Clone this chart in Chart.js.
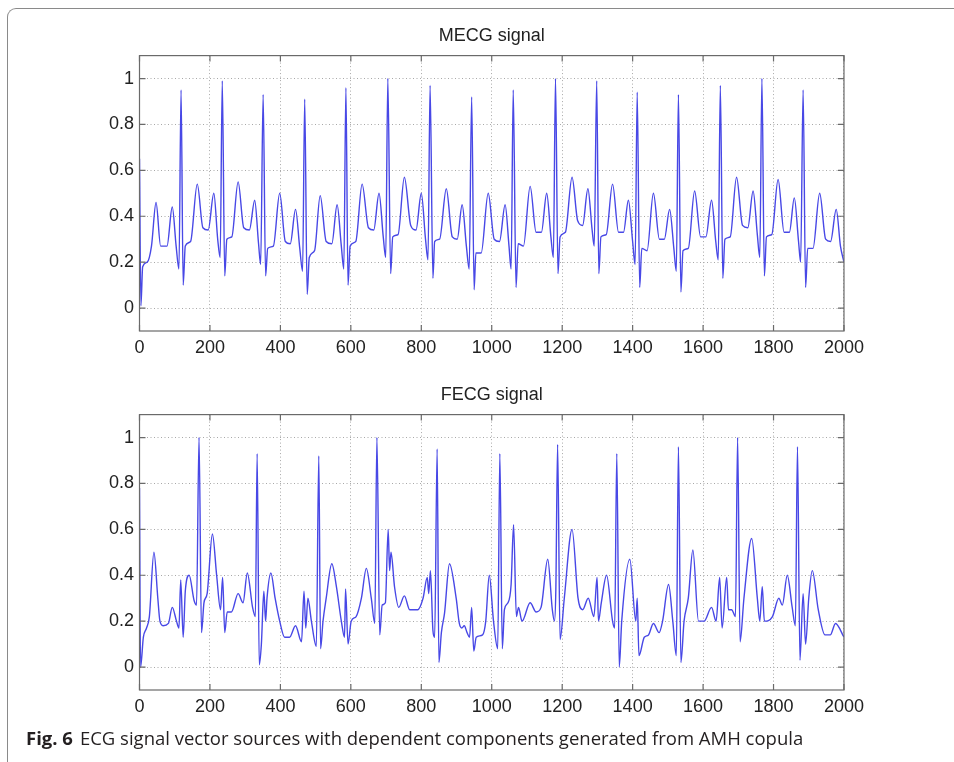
<!DOCTYPE html>
<html>
<head>
<meta charset="utf-8">
<script src="https://cdn.jsdelivr.net/npm/chart.js@4.4.1/dist/chart.umd.min.js"></script>
<style>
  html, body { margin: 0; padding: 0; background: #fff; }
  body { width: 954px; height: 762px; position: relative; overflow: hidden; }
  .frame { position: absolute; left: 7px; top: 8px; width: 1000px; height: 800px;
           border-left: 1.5px solid #8a8a8a; border-top: 1.5px solid #8a8a8a; border-top-left-radius: 9px; }
  canvas { position: absolute; left: 70px; }
  #chartMecg { top: 14px; }
  #chartFecg { top: 373px; }
  .caption { position: absolute; left: 26px; top: 725px; font-family: "Open Sans", sans-serif;
             font-size: 18.5px; color: #231f20; white-space: nowrap; }
  .caption b { font-weight: 700; margin-right: 7px; }
</style>
</head>
<body>
<div class="frame"></div>
<canvas id="chartMecg" width="800" height="360"></canvas>
<canvas id="chartFecg" width="800" height="360"></canvas>
<div class="caption"><b>Fig. 6</b>ECG signal vector sources with dependent components generated from AMH copula</div>

<script>
// tick values
const xTicks = [0, 200, 400, 600, 800, 1000, 1200, 1400, 1600, 1800, 2000];
const yTicks = [0, 0.2, 0.4, 0.6, 0.8, 1];

// MECG signal, [sample, amplitude]
const mecg = [
  [0,0.65],[4,0.01],[9,0.18],[22,0.2],[34,0.27],[47,0.46],[60,0.27],[78,0.27],[93,0.44],[104,0.27],
  [112,0.17],[118,0.95],[124,0.10],[130,0.27],[145,0.29],[164,0.54],[180,0.35],[195,0.34],[211,0.50],[222,0.30],
  [229,0.22],[235,0.99],[242,0.14],[248,0.30],[262,0.31],[280,0.55],[296,0.35],[312,0.34],[327,0.47],[338,0.28],
  [344,0.19],[351,0.93],[358,0.14],[364,0.26],[380,0.27],[398,0.50],[414,0.29],[428,0.28],[443,0.43],[455,0.26],
  [463,0.16],[469,0.91],[476,0.06],[482,0.22],[497,0.25],[513,0.49],[530,0.29],[546,0.28],[561,0.45],[573,0.27],
  [580,0.17],[586,0.96],[592,0.10],[598,0.27],[614,0.29],[632,0.54],[650,0.35],[665,0.34],[680,0.50],[692,0.31],
  [699,0.22],[705,1.0],[713,0.15],[719,0.31],[734,0.32],[752,0.57],[770,0.36],[785,0.34],[800,0.50],[812,0.30],
  [819,0.21],[825,0.97],[833,0.13],[838,0.29],[852,0.30],[871,0.52],[888,0.31],[902,0.30],[916,0.45],[928,0.27],
  [936,0.17],[943,0.92],[950,0.08],[955,0.24],[970,0.24],[990,0.50],[1007,0.30],[1022,0.29],[1038,0.45],[1049,0.27],
  [1055,0.17],[1061,0.95],[1069,0.09],[1075,0.28],[1090,0.27],[1109,0.53],[1126,0.33],[1141,0.33],[1156,0.50],[1168,0.31],
  [1175,0.22],[1181,1.0],[1188,0.15],[1194,0.31],[1209,0.33],[1228,0.57],[1244,0.38],[1258,0.36],[1273,0.52],[1285,0.34],
  [1291,0.27],[1298,0.99],[1304,0.15],[1310,0.31],[1325,0.32],[1343,0.54],[1360,0.33],[1374,0.33],[1388,0.47],[1400,0.29],
  [1407,0.19],[1413,0.94],[1420,0.09],[1426,0.26],[1441,0.25],[1459,0.50],[1476,0.30],[1490,0.30],[1505,0.43],[1517,0.26],
  [1524,0.16],[1530,0.93],[1537,0.07],[1543,0.25],[1558,0.26],[1576,0.51],[1593,0.31],[1608,0.31],[1624,0.47],[1636,0.29],
  [1643,0.21],[1649,0.97],[1656,0.13],[1662,0.30],[1677,0.31],[1695,0.57],[1712,0.36],[1727,0.35],[1742,0.51],[1754,0.32],
  [1761,0.22],[1767,1.0],[1774,0.14],[1780,0.31],[1795,0.32],[1813,0.56],[1830,0.33],[1845,0.33],[1859,0.48],[1871,0.29],
  [1877,0.20],[1884,0.95],[1891,0.09],[1897,0.26],[1912,0.26],[1931,0.50],[1948,0.30],[1962,0.29],[1978,0.43],[1990,0.27],
  [2000,0.20]
];

// FECG signal
const fecg = [
  [0,0.78],[3,0.0],[11,0.13],[20,0.17],[28,0.22],[41,0.50],[52,0.30],[58,0.2],[67,0.18],[82,0.19],
  [93,0.26],[105,0.2],[112,0.17],[117,0.38],[124,0.13],[130,0.33],[141,0.40],[155,0.29],[162,0.27],[169,1.0],
  [176,0.15],[183,0.28],[192,0.32],[207,0.58],[219,0.40],[230,0.25],[236,0.39],[242,0.15],[249,0.24],[261,0.24],
  [280,0.32],[294,0.28],[306,0.41],[321,0.26],[329,0.22],[334,0.93],[340,0.01],[346,0.10],[353,0.33],[358,0.20],
  [362,0.3],[373,0.41],[385,0.3],[398,0.2],[412,0.13],[426,0.13],[443,0.18],[460,0.11],[467,0.33],[472,0.17],
  [478,0.3],[488,0.2],[502,0.09],[509,0.92],[514,0.08],[521,0.2],[530,0.3],[546,0.45],[559,0.35],[573,0.2],
  [582,0.13],[585,0.34],[592,0.10],[601,0.2],[615,0.22],[630,0.3],[644,0.43],[658,0.3],[668,0.19],[674,1.0],
  [682,0.14],[689,0.27],[698,0.28],[706,0.6],[710,0.42],[714,0.5],[724,0.35],[736,0.26],[752,0.31],[767,0.25],
  [790,0.25],[805,0.3],[817,0.39],[821,0.32],[826,0.42],[833,0.16],[838,0.13],[845,0.95],[850,0.02],[857,0.15],
  [866,0.235],[880,0.45],[899,0.3],[908,0.19],[915,0.17],[922,0.18],[930,0.15],[937,0.13],[943,0.26],[949,0.07],
  [956,0.13],[974,0.14],[983,0.2],[993,0.4],[1005,0.2],[1017,0.08],[1023,0.93],[1030,0.08],[1036,0.25],[1046,0.28],
  [1055,0.36],[1062,0.62],[1070,0.22],[1076,0.26],[1086,0.2],[1109,0.28],[1126,0.24],[1140,0.26],[1159,0.47],[1172,0.25],
  [1178,0.2],[1182,0.34],[1187,0.97],[1194,0.12],[1206,0.3],[1228,0.6],[1245,0.3],[1258,0.25],[1274,0.3],[1290,0.22],
  [1299,0.39],[1303,0.2],[1311,0.28],[1326,0.4],[1343,0.2],[1349,0.17],[1355,0.93],[1362,0.0],[1369,0.2],[1392,0.47],
  [1409,0.2],[1413,0.3],[1418,0.05],[1433,0.13],[1445,0.14],[1459,0.19],[1475,0.15],[1485,0.2],[1502,0.36],[1514,0.2],
  [1524,0.05],[1530,0.96],[1537,0.02],[1546,0.2],[1558,0.3],[1571,0.51],[1587,0.2],[1603,0.2],[1624,0.26],[1637,0.2],
  [1647,0.39],[1654,0.17],[1667,0.39],[1672,0.25],[1681,0.25],[1692,0.22],[1698,1.0],[1705,0.11],[1716,0.3],[1738,0.56],
  [1754,0.3],[1761,0.2],[1768,0.35],[1774,0.2],[1797,0.22],[1815,0.3],[1825,0.27],[1839,0.4],[1853,0.26],[1862,0.18],
  [1868,0.96],[1875,0.03],[1884,0.32],[1891,0.1],[1900,0.3],[1910,0.42],[1927,0.25],[1946,0.14],[1961,0.14],[1976,0.19],
  [2000,0.13]
];

const tickFont = { family: '"Liberation Sans", Arial, sans-serif', size: 18 };

// matlab style box with inward ticks on all four sides
const matlabBox = {
  id: 'matlabBox',
  afterDraw(chart) {
    const { ctx, chartArea: a, scales: { x, y } } = chart;
    ctx.save();
    ctx.strokeStyle = '#6a6a6a';
    ctx.lineWidth = 1.2;
    ctx.strokeRect(a.left, a.top, a.right - a.left, a.bottom - a.top);
    ctx.beginPath();
    x.ticks.forEach(t => {
      const px = x.getPixelForValue(t.value);
      ctx.moveTo(px, a.bottom); ctx.lineTo(px, a.bottom - 6);
      ctx.moveTo(px, a.top); ctx.lineTo(px, a.top + 6);
    });
    y.ticks.forEach(t => {
      const py = y.getPixelForValue(t.value);
      ctx.moveTo(a.left, py); ctx.lineTo(a.left + 6, py);
      ctx.moveTo(a.right, py); ctx.lineTo(a.right - 6, py);
    });
    ctx.stroke();
    ctx.restore();
  }
};

function drawSignal(canvasId, title, points) {
  const ctx = document.getElementById(canvasId).getContext('2d');
  return new Chart(ctx, {
    type: 'line',
    data: {
      datasets: [{
        data: points.map(p => ({ x: p[0], y: p[1] })),
        borderColor: '#4848e6',
        borderWidth: 1.4,
        pointRadius: 0,
        fill: false,
        cubicInterpolationMode: 'monotone'
      }]
    },
    options: {
      responsive: false,
      animation: false,
      devicePixelRatio: 1,
      layout: { padding: { left: 0, right: 26, top: 0, bottom: 3 } },
      plugins: {
        legend: { display: false },
        tooltip: { enabled: false },
        title: {
          display: true,
          text: title,
          fullSize: false,
          color: '#222',
          font: { family: '"Liberation Sans", Arial, sans-serif', size: 18, weight: 'normal', lineHeight: 1.2 },
          padding: { top: 11, bottom: 9 }
        }
      },
      scales: {
        x: {
          type: 'linear',
          min: 0,
          max: 2000,
          afterBuildTicks: s => { s.ticks = xTicks.map(v => ({ value: v })); },
          afterFit: s => { s.height = 40; },
          ticks: { callback: v => String(v), font: tickFont, color: '#222', padding: 6, maxRotation: 0 },
          grid: { color: '#a8a8a8', lineWidth: 1, drawTicks: false },
          border: { display: false, dash: [1, 2.5] }
        },
        y: {
          min: -0.1,
          max: 1.1,
          afterBuildTicks: s => { s.ticks = yTicks.map(v => ({ value: v })); },
          afterFit: s => { s.width = 69.5; },
          ticks: { callback: v => String(v), font: tickFont, color: '#222', padding: 5.5 },
          grid: { color: '#a8a8a8', lineWidth: 1, drawTicks: false },
          border: { display: false, dash: [1, 2.5] }
        }
      }
    },
    plugins: [matlabBox]
  });
}

drawSignal('chartMecg', 'MECG signal', mecg);
drawSignal('chartFecg', 'FECG signal', fecg);
</script>
</body>
</html>
